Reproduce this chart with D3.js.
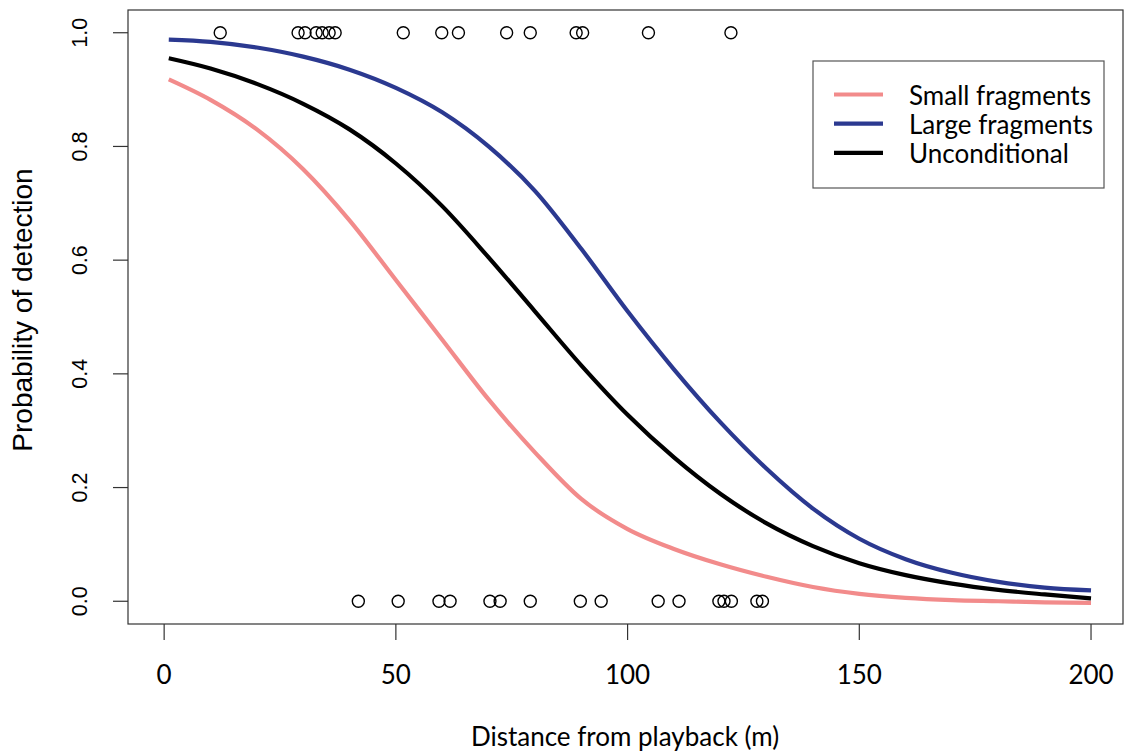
<!DOCTYPE html>
<html>
<head>
<meta charset="utf-8">
<script src="https://cdn.jsdelivr.net/npm/d3@7"></script>
<style>
  html, body { margin: 0; padding: 0; background: #fff; }
  svg { display: block; }
</style>
</head>
<body>
<svg id="chart" width="1129" height="753"></svg>
<script>
// ---- data ----
const distances = [1,10,20,30,40,50,60,70,80,90,100,110,120,130,140,150,160,170,180,190,200];
const smallFragments = [0.918,0.882,0.830,0.760,0.670,0.565,0.460,0.355,0.262,0.180,0.127,0.092,0.065,0.043,0.025,0.013,0.006,0.002,0.000,-0.002,-0.003];
const largeFragments = [0.988,0.984,0.974,0.958,0.935,0.903,0.860,0.800,0.722,0.620,0.510,0.408,0.315,0.233,0.163,0.110,0.074,0.050,0.034,0.024,0.019];
const unconditional  = [0.955,0.937,0.910,0.875,0.830,0.770,0.695,0.605,0.510,0.415,0.328,0.253,0.189,0.137,0.097,0.067,0.046,0.031,0.020,0.012,0.005];

const detectedDistances = [12.1,28.9,30.4,32.8,34.1,35.6,36.9,51.6,59.9,63.5,73.9,79.0,88.9,90.3,104.5,122.3];
const missedDistances   = [41.9,50.5,59.3,61.7,70.3,72.5,79.0,89.8,94.3,106.6,111.1,119.7,120.8,122.4,127.9,129.1];

const xTicks = [0,50,100,150,200];
const yTicks = [0.0,0.2,0.4,0.6,0.8,1.0];

const seriesNames  = ["Small fragments","Large fragments","Unconditional"];
const seriesColors = ["#f28b8b","#2b3990","#000000"];
const seriesValues = [smallFragments, largeFragments, unconditional];

// ---- layout ----
const box = {left:128, right:1123, top:10, bottom:624};
const svg = d3.select("#chart");

const x = d3.scaleLinear().domain([-7.8, 206.9]).range([box.left, box.right]);
const y = d3.scaleLinear().domain([-0.04, 1.04]).range([box.bottom, box.top]);

// plot frame
svg.append("rect")
  .attr("x", box.left).attr("y", box.top)
  .attr("width", box.right - box.left).attr("height", box.bottom - box.top)
  .attr("fill", "none").attr("stroke", "#333").attr("stroke-width", 1.2);

// x axis
const xAxis = svg.append("g");
xAxis.selectAll("line").data(xTicks).join("line")
  .attr("x1", d => x(d)).attr("x2", d => x(d))
  .attr("y1", box.bottom).attr("y2", box.bottom + 16)
  .attr("stroke", "#333").attr("stroke-width", 1.2);
xAxis.selectAll("text").data(xTicks).join("text")
  .attr("x", d => x(d)).attr("y", 684)
  .attr("text-anchor", "middle")
  .attr("font-family", "Lato, 'Open Sans', sans-serif")
  .attr("font-size", 26)
  .text(d => d);

// y axis
const yAxis = svg.append("g");
yAxis.selectAll("line").data(yTicks).join("line")
  .attr("x1", box.left - 15).attr("x2", box.left)
  .attr("y1", d => y(d)).attr("y2", d => y(d))
  .attr("stroke", "#333").attr("stroke-width", 1.2);
yAxis.selectAll("text").data(yTicks).join("text")
  .attr("transform", d => `translate(87,${y(d)}) rotate(-90)`)
  .attr("text-anchor", "middle")
  .attr("font-family", "'Liberation Sans', Arial, sans-serif")
  .attr("font-size", 21.5)
  .text(d => d.toFixed(1));

// axis titles
svg.append("text")
  .attr("x", 625).attr("y", 746)
  .attr("text-anchor", "middle")
  .attr("font-family", "Lato, 'Open Sans', sans-serif")
  .attr("font-size", 26)
  .text("Distance from playback (m)");

svg.append("text")
  .attr("transform", "translate(32,310) rotate(-90)")
  .attr("text-anchor", "middle")
  .attr("font-family", "'Liberation Sans', Arial, sans-serif")
  .attr("font-size", 28)
  .text("Probability of detection");

// curves
const line = d3.line()
  .x(d => x(d[0])).y(d => y(d[1]))
  .curve(d3.curveMonotoneX);

seriesValues.forEach((vals, i) => {
  svg.append("path")
    .datum(distances.map((dd, j) => [dd, vals[j]]))
    .attr("d", line)
    .attr("fill", "none")
    .attr("stroke", seriesColors[i])
    .attr("stroke-width", 4.2)
    .attr("stroke-linejoin", "round");
});

// observations
const pts = svg.append("g");
pts.selectAll("circle.det").data(detectedDistances).join("circle")
  .attr("class", "det")
  .attr("cx", d => x(d)).attr("cy", y(1))
  .attr("r", 6).attr("fill", "none").attr("stroke", "#000").attr("stroke-width", 1.4);
pts.selectAll("circle.mis").data(missedDistances).join("circle")
  .attr("class", "mis")
  .attr("cx", d => x(d)).attr("cy", y(0))
  .attr("r", 6).attr("fill", "none").attr("stroke", "#000").attr("stroke-width", 1.4);

// legend
const lg = svg.append("g");
lg.append("rect")
  .attr("x", 813).attr("y", 61).attr("width", 291).attr("height", 127)
  .attr("fill", "#fff").attr("stroke", "#555").attr("stroke-width", 1.2);
seriesNames.forEach((name, i) => {
  const ly = 94.5 + i * 29.2;
  lg.append("line")
    .attr("x1", 834).attr("x2", 883).attr("y1", ly).attr("y2", ly)
    .attr("stroke", seriesColors[i]).attr("stroke-width", 4.2);
  lg.append("text")
    .attr("x", 909).attr("y", ly + 10)
    .attr("font-family", "Lato, 'Open Sans', sans-serif")
    .attr("font-size", 26)
    .text(name);
});
</script>
</body>
</html>
